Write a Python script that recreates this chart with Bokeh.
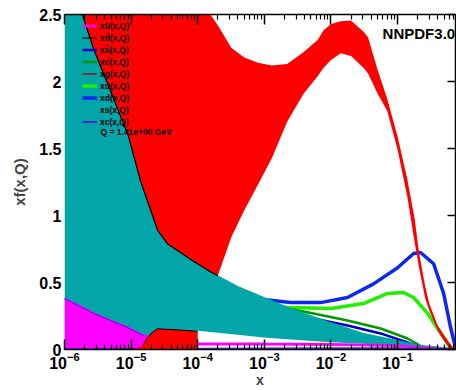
from bokeh.plotting import figure
from bokeh.models import (Range1d, LogAxis, LinearAxis, FixedTicker, Legend, LegendItem,
                          Label, NumeralTickFormatter)
from bokeh.embed import file_html
from bokeh.resources import INLINE

# ---------------- data ----------------
x_ticks = [1e-6, 1e-5, 1e-4, 1e-3, 1e-2, 1e-1]
y_ticks = [0, 0.5, 1, 1.5, 2, 2.5]
legend_labels = ["x\u016b(x,Q)", "xd\u0304(x,Q)", "xs\u0304(x,Q)", "xc\u0304(x,Q)", "xg(x,Q)",
                 "xu(x,Q)", "xd(x,Q)", "xs(x,Q)", "xc(x,Q)"]
q_label = "Q = 1.41e+00 GeV"
title_label = "NNPDF3.0"

# large red band
red_x = [1.6e-6, 1.86e-6, 2.7e-6, 5e-6, 9e-6, 1.4e-5, 2.5e-5, 3.5e-5, 8.5e-5, 1.55e-4, 2e-4,
         3.2e-4, 5e-4, 8e-4, 1.3e-3, 2.2e-3, 3.9e-3, 6.3e-3, 7.7e-3, 1.0e-2, 1.4e-2, 2.0e-2,
         3.1e-2, 3.6e-2, 5e-2, 7e-2, 0.1, 0.14, 0.18, 0.21, 0.26, 0.3, 0.4, 0.5, 0.6, 0.7]
red_up = [4.2, 4.1, 3.9, 3.7, 3.5, 3.3, 3.1, 3.0, 2.75, 2.5, 2.42,
          2.25, 2.18, 2.14, 2.12, 2.13, 2.22, 2.31, 2.38, 2.43, 2.45, 2.455,
          2.37, 2.33, 2.09, 1.87, 1.59, 1.27, 0.98, 0.72, 0.47, 0.34, 0.18, 0.107, 0.048, 0.01]
red_lo = [2.7, 2.5, 2.25, 1.92, 1.6, 1.25, 0.89, 0.79, 0.66, 0.58, 0.55,
          0.84, 1.04, 1.23, 1.43, 1.70, 1.91, 2.04, 2.10, 2.16, 2.21, 2.19,
          2.10, 2.06, 1.91, 1.78, 1.49, 1.14, 0.80, 0.61, 0.38, 0.29, 0.144, 0.065, 0.012, 0.0]
n_black = 11  # part of the red lower edge drawn as a black line

# small red block near the axis
blk_x = [1.1e-5, 1.5e-5, 1.76e-5, 2.1e-5, 2.5e-5, 3.5e-5, 5.5e-5, 1.0e-4, 1.001e-4]
blk_up = [0.0, 0.03, 0.09, 0.13, 0.155, 0.15, 0.145, 0.135, 0.0]
blk_lo = [0, 0, 0, 0, 0, 0, 0, 0, 0]

# cyan band
cy_x = [1e-6, 2e-6, 5e-6, 1e-5, 2e-5, 5e-5, 1e-4, 2e-4, 4e-4, 9.7e-4, 2.47e-3, 1e-2, 3.08e-2,
        0.1, 0.22, 0.5, 0.8]
cy_up = [3.6, 3.1, 2.5, 2.0, 1.45, 0.95, 0.70, 0.55, 0.47, 0.39, 0.306, 0.20, 0.12,
         0.067, 0.03, 0.015, 0.005]
cy_lo = [0.0, 0.02, 0.04, 0.05, 0.07, 0.11, 0.14, 0.125, 0.11, 0.09, 0.075, 0.055, 0.042,
         0.03, 0.015, 0.0, 0.0]

# magenta band
mg_x = [1e-6, 1.74e-6, 2.72e-6, 4.9e-6, 8.8e-6, 1.53e-5, 2.76e-5, 1e-4, 1e-3, 1e-2, 0.1, 0.3, 0.5, 0.8]
mg_up = [0.38, 0.32, 0.27, 0.216, 0.164, 0.104, 0.067, 0.045, 0.042, 0.04, 0.03, 0.012, 0.004, 0.0]
mg_lo = [-0.1, -0.08, -0.06, -0.04, -0.02, 0.0, 0.02, 0.03, 0.03, 0.028, 0.02, 0.005, 0.0, -0.005]
n_mg_edge = 6

# curves
blue_x = [3.1e-4, 9.7e-4, 2.47e-3, 6.98e-3, 1.77e-2, 4.36e-2, 0.1, 0.174, 0.221, 0.347, 0.49, 0.625, 0.74]
blue_y = [0.42, 0.373, 0.35, 0.35, 0.388, 0.49, 0.61, 0.716, 0.724, 0.64, 0.42, 0.164, 0.015]

lgreen_x = [8.8e-4, 2.23e-3, 1e-2, 3.08e-2, 7.08e-2, 0.123, 0.174, 0.282, 0.443, 0.62]
lgreen_y = [0.33, 0.313, 0.306, 0.343, 0.418, 0.425, 0.388, 0.27, 0.12, 0.015]

dgreen_x = [8.8e-4, 2.23e-3, 5.48e-3, 1.77e-2, 5.56e-2, 0.141, 0.245, 0.44]
dgreen_y = [0.33, 0.306, 0.269, 0.216, 0.157, 0.082, 0.015, 0.0]

dblue_x = [2.47e-3, 5.48e-3, 1.77e-2, 5.56e-2, 0.141, 0.22, 0.37]
dblue_y = [0.26, 0.231, 0.179, 0.12, 0.052, 0.015, 0.0]

purple_x = [1e-6, 1e-5, 1e-4, 1e-3, 1e-2, 0.1, 0.3, 0.8]
purple_y = [0.003, 0.004, 0.005, 0.008, 0.01, 0.01, 0.006, 0.0]

zero_x = [1e-6, 1e-3, 0.8]
zero_y = [0.0, 0.0, 0.0]

# ---------------- figure ----------------
FONT = "Liberation Sans"
CYAN = "#03a6a8"

p = figure(width=456, height=390, x_axis_type="log",
           x_range=Range1d(1e-6, 0.74), y_range=Range1d(0, 2.5),
           output_backend="svg", toolbar_location=None,
           min_border_left=64, min_border_right=1, min_border_top=14, min_border_bottom=41)
p.grid.visible = False
p.outline_line_color = None
p.background_fill_color = "white"

r_brown = p.line(zero_x, zero_y, line_color="#6b3a3a", line_width=2)
r_blue = p.line(blue_x, blue_y, line_color="#0a28f0", line_width=3.5)
r_lgreen = p.line(lgreen_x, lgreen_y, line_color="#22ee00", line_width=3.5)
r_dgreen = p.line(dgreen_x, dgreen_y, line_color="#009a00", line_width=2.5)
r_dblue = p.line(dblue_x, dblue_y, line_color="#0000c0", line_width=2.5)

p.varea(x=cy_x, y1=cy_lo, y2=cy_up, fill_color=CYAN)
r_cyan = p.line(cy_x, cy_up, line_color=CYAN, line_width=1)

p.varea(x=mg_x, y1=mg_lo, y2=mg_up, fill_color="#ff00ff")
r_mag = p.line(mg_x, mg_up, line_color="#ff00ff", line_width=2.5)
p.line(mg_x[:n_mg_edge], mg_up[:n_mg_edge], line_color="#2a2ad0", line_width=1)
r_purple = p.line(purple_x, purple_y, line_color="#5a20c8", line_width=2)

p.varea(x=blk_x, y1=blk_lo, y2=blk_up, fill_color="#ff0000")
p.line(blk_x[1:-1], blk_up[1:-1], line_color="black", line_width=1)

p.varea(x=red_x, y1=red_lo, y2=red_up, fill_color="#ff0000")
r_black = p.line(red_x[:n_black], red_lo[:n_black], line_color="black", line_width=1.2)

# ---------------- axes ----------------
xminor = [k * t for t in x_ticks for k in range(2, 10)]
xb = p.xaxis[0]
xt = LogAxis()
p.add_layout(xt, "above")
for ax in (xb, xt):
    ax.ticker = FixedTicker(ticks=x_ticks, minor_ticks=xminor)
    ax.major_tick_in = 10
    ax.major_tick_out = 0
    ax.minor_tick_in = 5
    ax.minor_tick_out = 0
    ax.axis_line_width = 1.5
    ax.major_tick_line_width = 1.5
    ax.minor_tick_line_width = 1.2
xb.major_label_text_font = FONT
xb.major_label_text_font_style = "bold"
xb.major_label_text_font_size = "16px"
xb.major_label_text_color = "black"
xb.major_label_standoff = 2
xb.axis_label = "x"
xb.axis_label_text_font = FONT
xb.axis_label_text_font_style = "bold"
xb.axis_label_text_font_size = "14px"
xb.axis_label_standoff = 0
xt.major_label_text_font_size = "1px"
xt.major_label_text_color = None
xt.major_label_standoff = 0

yl = p.yaxis[0]
yr = LinearAxis()
p.add_layout(yr, "right")
for ax in (yl, yr):
    ax.ticker = FixedTicker(ticks=y_ticks, minor_ticks=[])
    ax.major_tick_in = 8
    ax.major_tick_out = 0
    ax.minor_tick_line_color = None
    ax.axis_line_width = 1.5
    ax.major_tick_line_width = 1.5
# left edge is covered by the cyan band in the reference
yl.axis_line_color = None
yl.major_tick_line_color = None
yl.formatter = NumeralTickFormatter(format="0.[0]")
yl.major_label_text_font = FONT
yl.major_label_text_font_style = "bold"
yl.major_label_text_font_size = "16px"
yl.major_label_text_color = "black"
yl.major_label_standoff = 3
yl.axis_label = "xf(x,Q)"
yl.axis_label_text_font = FONT
yl.axis_label_text_font_style = "bold"
yl.axis_label_text_font_size = "15px"
yl.axis_label_standoff = 8
yr.major_label_text_font_size = "1px"
yr.major_label_text_color = None
yr.major_label_standoff = 0

# ---------------- legend & labels ----------------
leg_renderers = [r_mag, r_black, r_dblue, r_dgreen, r_brown, r_lgreen, r_blue, r_cyan, r_purple]
items = [LegendItem(label=lab, renderers=[r]) for lab, r in zip(legend_labels, leg_renderers)]
legend = Legend(items=items, location=(18, 222), level="overlay",
                label_text_font=FONT, label_text_font_style="bold", label_text_font_size="8.5px",
                label_text_color="black", glyph_width=15, glyph_height=11, label_height=11,
                label_standoff=3, spacing=1, padding=0, margin=0,
                background_fill_alpha=0, border_line_color=None)
p.add_layout(legend)

p.add_layout(Label(x=3.47e-6, y=1.62, text=q_label, text_font=FONT, text_font_style="bold",
                   text_font_size="8.5px", text_baseline="middle", text_color="black", level="overlay"))
p.add_layout(Label(x=0.0596, y=2.36, text=title_label, text_font=FONT, text_font_style="bold",
                   text_font_size="15px", text_baseline="alphabetic", text_color="black", level="overlay"))

open("out.html", "w").write(file_html(p, INLINE))
